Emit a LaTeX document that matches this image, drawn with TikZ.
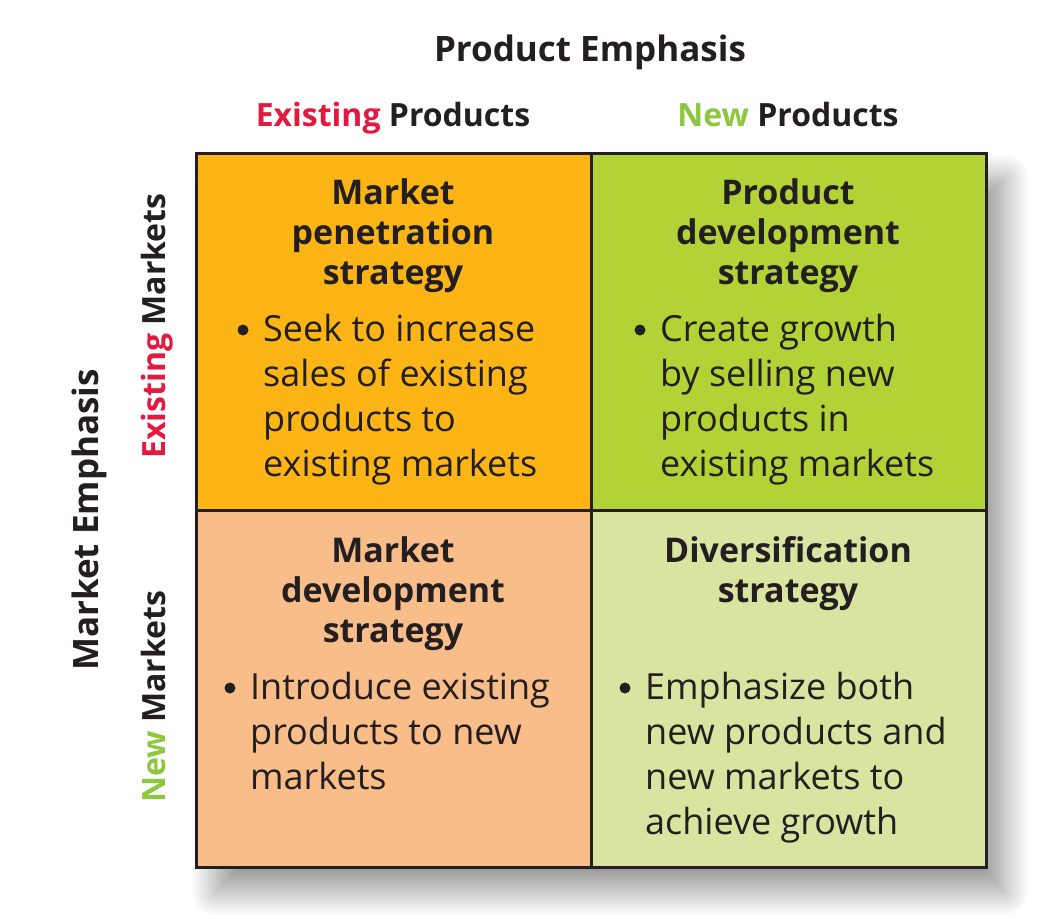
\documentclass[tikz,border=0pt]{standalone}
\usepackage{fontspec}
\setmainfont{Open Sans}
\usetikzlibrary{shadows.blur}

\definecolor{ink}{HTML}{231F20}
\definecolor{penfill}{HTML}{FDB515}
\definecolor{pdevfill}{HTML}{B3D235}
\definecolor{mdevfill}{HTML}{F9BD8A}
\definecolor{divfill}{HTML}{D8E49F}
\definecolor{hired}{HTML}{E4193F}
\definecolor{higreen}{HTML}{8DC63F}

\tikzset{
  cell/.style={draw=ink, line width=2.5pt, minimum width=395pt, minimum height=357pt,
    inner sep=0pt},
  head/.style={font=\fontsize{35}{40}\selectfont\bfseries, text=ink},
  subhead/.style={font=\fontsize{32}{38}\selectfont\bfseries, text=ink,
    text height=0.75em, text depth=0.25em},
  title/.style={font=\fontsize{34}{40}\selectfont\bfseries, text=ink, align=center},
  body/.style={font=\fontsize{36}{45}\selectfont, text=ink, align=left, inner sep=0pt,
    anchor=north west},
  dot/.style={circle, fill=ink, inner sep=0pt, minimum size=11pt}
}

\begin{document}
\begin{tikzpicture}[x=1pt,y=-1pt]
  \useasboundingbox (0,0) rectangle (1040,918);

  % --- Shadow behind the grid ---
  \fill[black!20, blur shadow={shadow xshift=20pt, shadow yshift=-26pt,
        shadow blur radius=24pt, shadow blur steps=16, shadow opacity=40}, draw=none]
       (195,152) rectangle (985,866);

  % --- Quadrants ---
  \node[cell, fill=penfill,  anchor=north west] (pen)  at (195,152) {};
  \node[cell, fill=pdevfill, anchor=north west] (pdev) at (590,152) {};
  \node[cell, fill=mdevfill, anchor=north west] (mdev) at (195,509) {};
  \node[cell, fill=divfill,  anchor=north west] (div)  at (590,509) {};

  % --- Headings ---
  \node[head] (prodemph) at (590,52) {Product Emphasis};
  \node[subhead] (exprod) at (393,124) {\textcolor{hired}{Existing} Products};
  \node[subhead] (newprod) at (788,124) {\textcolor{higreen}{New} Products};
  \node[head, rotate=90] (mktemph) at (89,520) {Market Emphasis};
  \node[subhead, rotate=90] (exmkt) at (163,326) {\textcolor{hired}{Existing} Markets};
  \node[subhead, rotate=90] (newmkt) at (163,697) {\textcolor{higreen}{New} Markets};

  % --- Strategy titles ---
  \node[title] (pentitle)  at (393,236) {Market\\penetration\\strategy};
  \node[title] (pdevtitle) at (788,236) {Product\\development\\strategy};
  \node[title] (mdevtitle) at (393,594) {Market\\development\\strategy};
  \node[title] (divtitle)  at (788,574) {Diversification\\strategy};

  % --- Bullets ---
  \node[dot]  (penb)  at (243,330) {};
  \node[body] (pentext) at (263,314) {Seek to increase\\sales of existing\\products to\\existing markets};

  \node[dot]  (pdevb) at (640,330) {};
  \node[body] (pdevtext) at (660,314) {Create growth\\by selling new\\products in\\existing markets};

  \node[dot]  (mdevb) at (230,688) {};
  \node[body] (mdevtext) at (250,672) {Introduce existing\\products to new\\markets};

  \node[dot]  (divb)  at (625,688) {};
  \node[body] (divtext) at (645,672) {Emphasize both\\new products and\\new markets to\\achieve growth};
\end{tikzpicture}
\end{document}
